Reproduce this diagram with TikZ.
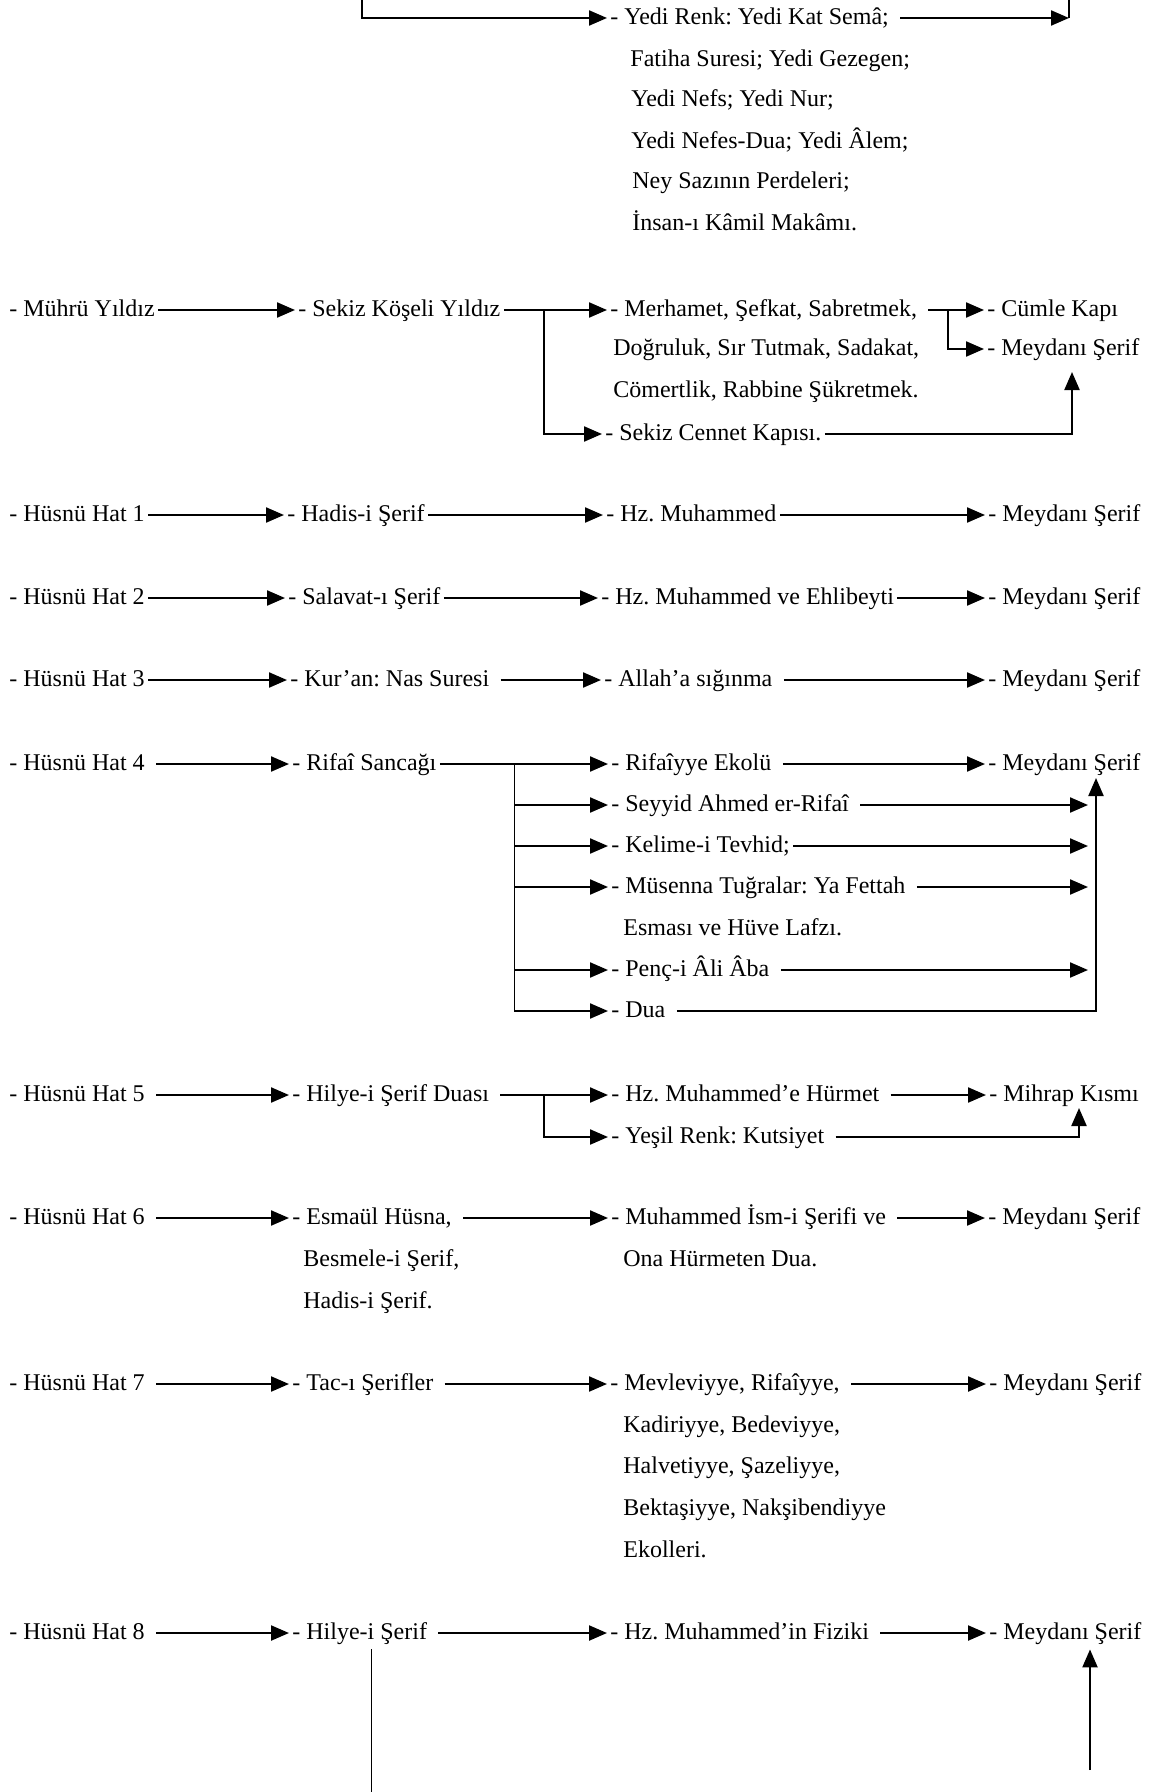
\documentclass[tikz,border=0pt]{standalone}
\usepackage{fontspec}
\setmainfont{Liberation Serif}
\usetikzlibrary{arrows.meta}
\frenchspacing

\begin{document}
\begin{tikzpicture}[x=0.5pt,y=-0.5pt,
  lbl/.style={anchor=west,inner xsep=1.5pt,inner ysep=2pt,text height=9.2pt,text depth=2.8pt,font=\fontsize{12}{14}\selectfont},
  arr/.style={line width=1.1pt,-{Triangle[length=9pt,width=7.5pt]}},
  ln/.style={line width=1.1pt},
  hair/.style={line width=0.5pt},
  gap/.style={shorten <=4pt}]
\useasboundingbox (0,0) rectangle (1152,1792);

\node[lbl] (yr) at (607,18) {- Yedi Renk: Yedi Kat Semâ;};
\node[lbl] (yr1) at (627,60) {Fatiha Suresi; Yedi Gezegen;};
\node[lbl] (yr2) at (628,100) {Yedi Nefs; Yedi Nur;};
\node[lbl] (yr3) at (628,142) {Yedi Nefes-Dua; Yedi Âlem;};
\node[lbl] (yr4) at (629,182) {Ney Sazının Perdeleri;};
\node[lbl] (yr5) at (629,224) {İnsan-ı Kâmil Makâmı.};
\coordinate (tl) at (362,0);
\coordinate (tr) at (1069,0);
\draw[arr] (tl) |- (yr.west);
\draw[arr,gap] (yr.east) -- (yr.east -| tr);
\draw[ln] (tr) -- (yr.east -| tr);

\node[lbl] (my1) at (6,310) {- Mührü Yıldız};
\node[lbl] (my2) at (295,310) {- Sekiz Köşeli Yıldız};
\node[lbl] (my3) at (607,310) {- Merhamet, Şefkat, Sabretmek,};
\node[lbl] (my3a) at (610,349) {Doğruluk, Sır Tutmak, Sadakat,};
\node[lbl] (my3b) at (610,391) {Cömertlik, Rabbine Şükretmek.};
\node[lbl] (my4) at (602,434) {- Sekiz Cennet Kapısı.};
\node[lbl] (my5) at (984,310) {- Cümle Kapı};
\node[lbl] (my6) at (984,349) {- Meydanı Şerif};
\coordinate (sa) at (544,310);
\coordinate (sb) at (948,310);
\coordinate (ta) at (1072,372);
\draw[arr] (my1) -- (my2);
\draw[arr] (my2) -- (my3);
\draw[arr] (sa) |- (my4.west);
\draw[arr,gap] (my3) -- (my5);
\draw[arr] (sb) |- (my6.west);
\draw[arr] (my4.east) -| (ta);

\node[lbl] (h1a) at (6,515) {- Hüsnü Hat 1};
\node[lbl] (h1b) at (284,515) {- Hadis-i Şerif};
\node[lbl] (h1c) at (603,515) {- Hz. Muhammed};
\node[lbl] (h1d) at (985,515) {- Meydanı Şerif};
\draw[arr] (h1a) -- (h1b);
\draw[arr] (h1b) -- (h1c);
\draw[arr] (h1c) -- (h1d);

\node[lbl] (h2a) at (6,598) {- Hüsnü Hat 2};
\node[lbl] (h2b) at (285,598) {- Salavat-ı Şerif};
\node[lbl] (h2c) at (598,598) {- Hz. Muhammed ve Ehlibeyti};
\node[lbl] (h2d) at (985,598) {- Meydanı Şerif};
\draw[arr] (h2a) -- (h2b);
\draw[arr] (h2b) -- (h2c);
\draw[arr] (h2c) -- (h2d);

\node[lbl] (h3a) at (6,680) {- Hüsnü Hat 3};
\node[lbl] (h3b) at (287,680) {- Kur’an: Nas Suresi};
\node[lbl] (h3c) at (601,680) {- Allah’a sığınma};
\node[lbl] (h3d) at (985,680) {- Meydanı Şerif};
\draw[arr] (h3a) -- (h3b);
\draw[arr,gap] (h3b) -- (h3c);
\draw[arr,gap] (h3c) -- (h3d);

\node[lbl] (h4a) at (6,764) {- Hüsnü Hat 4};
\node[lbl] (h4b) at (289,764) {- Rifaî Sancağı};
\node[lbl] (h4c) at (608,764) {- Rifaîyye Ekolü};
\node[lbl] (h4d) at (985,764) {- Meydanı Şerif};
\node[lbl] (h4e) at (608,805) {- Seyyid Ahmed er-Rifaî};
\node[lbl] (h4f) at (608,846) {- Kelime-i Tevhid;};
\node[lbl] (h4g) at (608,887) {- Müsenna Tuğralar: Ya Fettah};
\node[lbl] (h4h) at (620,929) {Esması ve Hüve Lafzı.};
\node[lbl] (h4i) at (608,970) {- Penç-i Âli Âba};
\node[lbl] (h4j) at (608,1011) {- Dua};
\coordinate (s4) at (514,764);
\coordinate (r4) at (1088,764);
\coordinate (t4) at (1096,778);
\draw[arr,gap] (h4a) -- (h4b);
\draw[arr] (h4b) -- (h4c);
\draw[arr,gap] (h4c) -- (h4d);
\draw[hair] (s4) -- (s4 |- h4j.west);
\draw[arr] (s4 |- h4e.west) -- (h4e);
\draw[arr] (s4 |- h4f.west) -- (h4f);
\draw[arr] (s4 |- h4g.west) -- (h4g);
\draw[arr] (s4 |- h4i.west) -- (h4i);
\draw[arr] (s4 |- h4j.west) -- (h4j);
\draw[arr,gap] (h4e) -- (h4e -| r4);
\draw[arr] (h4f) -- (h4f -| r4);
\draw[arr,gap] (h4g) -- (h4g -| r4);
\draw[arr,gap] (h4i) -- (h4i -| r4);
\draw[arr,gap] (h4j) -| (t4);

\node[lbl] (h5a) at (6,1095) {- Hüsnü Hat 5};
\node[lbl] (h5b) at (289,1095) {- Hilye-i Şerif Duası};
\node[lbl] (h5c) at (608,1095) {- Hz. Muhammed’e Hürmet};
\node[lbl] (h5d) at (986,1095) {- Mihrap Kısmı};
\node[lbl] (h5e) at (608,1137) {- Yeşil Renk: Kutsiyet};
\coordinate (s5) at (544,1095);
\coordinate (t5) at (1079,1108);
\draw[arr,gap] (h5a) -- (h5b);
\draw[arr,gap] (h5b) -- (h5c);
\draw[arr] (s5) |- (h5e.west);
\draw[arr,gap] (h5c) -- (h5d);
\draw[arr,gap] (h5e) -| (t5);

\node[lbl] (h6a) at (6,1218) {- Hüsnü Hat 6};
\node[lbl] (h6b) at (289,1218) {- Esmaül Hüsna,};
\node[lbl] (h6b1) at (300,1260) {Besmele-i Şerif,};
\node[lbl] (h6b2) at (300,1302) {Hadis-i Şerif.};
\node[lbl] (h6c) at (608,1218) {- Muhammed İsm-i Şerifi ve};
\node[lbl] (h6c1) at (620,1260) {Ona Hürmeten Dua.};
\node[lbl] (h6d) at (985,1218) {- Meydanı Şerif};
\draw[arr,gap] (h6a) -- (h6b);
\draw[arr,gap] (h6b) -- (h6c);
\draw[arr,gap] (h6c) -- (h6d);

\node[lbl] (h7a) at (6,1384) {- Hüsnü Hat 7};
\node[lbl] (h7b) at (289,1384) {- Tac-ı Şerifler};
\node[lbl] (h7c) at (607,1384) {- Mevleviyye, Rifaîyye,};
\node[lbl] (h7c1) at (620,1426) {Kadiriyye, Bedeviyye,};
\node[lbl] (h7c2) at (620,1467) {Halvetiyye, Şazeliyye,};
\node[lbl] (h7c3) at (620,1509) {Bektaşiyye, Nakşibendiyye};
\node[lbl] (h7c4) at (620,1551) {Ekolleri.};
\node[lbl] (h7d) at (986,1384) {- Meydanı Şerif};
\draw[arr,gap] (h7a) -- (h7b);
\draw[arr,gap] (h7b) -- (h7c);
\draw[arr,gap] (h7c) -- (h7d);

\node[lbl] (h8a) at (6,1633) {- Hüsnü Hat 8};
\node[lbl] (h8b) at (289,1633) {- Hilye-i Şerif};
\node[lbl] (h8c) at (607,1633) {- Hz. Muhammed’in Fiziki};
\node[lbl] (h8d) at (986,1633) {- Meydanı Şerif};
\coordinate (b8) at (371,1792);
\coordinate (u8) at (1090,1770);
\draw[arr,gap] (h8a) -- (h8b);
\draw[arr,gap] (h8b) -- (h8c);
\draw[arr,gap] (h8c) -- (h8d);
\draw[hair] (h8b.south -| b8) -- (b8);
\draw[arr] (u8) -- (u8 |- h8d.south);
\end{tikzpicture}
\end{document}
